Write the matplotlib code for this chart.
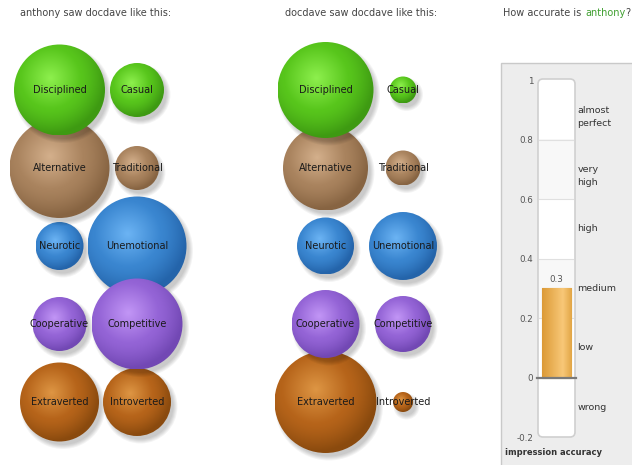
import numpy as np
import matplotlib
matplotlib.use("Agg")
import matplotlib.pyplot as plt
from matplotlib.patches import Circle, Rectangle, FancyBboxPatch
from matplotlib.colors import to_rgb
from matplotlib.offsetbox import TextArea, HPacker, AnnotationBbox
from matplotlib.transforms import blended_transform_factory

# trait pairs, one row each
left_traits = ["Disciplined", "Alternative", "Neurotic", "Cooperative", "Extraverted"]
right_traits = ["Casual", "Traditional", "Unemotional", "Competitive", "Introverted"]

# bubble radii (pixels)
anthony_left = [45.5, 50, 24, 27, 39.5]
anthony_right = [27, 22, 49.5, 45.5, 34]
docdave_left = [48, 42.5, 28.5, 34, 51]
docdave_right = [13.5, 17.5, 34, 28, 10]

accuracy = 0.3
acc_ticks = [-0.2, 0, 0.2, 0.4, 0.6, 0.8, 1]
acc_tick_labels = ["-0.2", "0", "0.2", "0.4", "0.6", "0.8", "1"]
band_labels = ["wrong", "low", "medium", "high", "very\nhigh", "almost\nperfect"]
band_centers = [-0.1, 0.1, 0.3, 0.5, 0.7, 0.9]

# light, base, dark per row
row_colors = [
    ("#8ef04e", "#58c61c", "#3e9a12"),
    ("#d4b08c", "#a9835e", "#876442"),
    ("#6cb4f4", "#3a86d0", "#2464aa"),
    ("#c296f6", "#9464d6", "#7248b4"),
    ("#de9644", "#b6641a", "#8a4a0e"),
]
row_z = [3, 2, 1, 3, 2]

fig = plt.figure(figsize=(6.32, 4.65), dpi=100)
ax = fig.add_axes([0, 0, 1, 1])
ax.set_xlim(0, 632)
ax.set_ylim(465, 0)
ax.axis("off")

n = 80
yy, xx = np.mgrid[-1:1:n * 1j, -1:1:n * 1j]
dist = np.clip(np.hypot(xx + 0.2, yy + 0.24) / 1.22, 0, 1)


def bubble(cx, cy, r, cols, z):
    light, base, dark = [np.array(to_rgb(c)) for c in cols]
    for k in range(5):
        ax.add_patch(Circle((cx + 3.5, cy + 4.5), r + 3 - k, color="k", alpha=0.045,
                            lw=0, zorder=z))
    t = dist[..., None]
    img = np.where(t < 0.55, light + (base - light) * (t / 0.55),
                   base + (dark - base) * ((t - 0.55) / 0.45) ** 1.3)
    circ = Circle((cx, cy), r, fc="none", ec="none", zorder=z + 0.1)
    ax.add_patch(circ)
    im = ax.imshow(img, extent=(cx - r, cx + r, cy + r, cy - r), zorder=z + 0.1,
                   interpolation="bilinear", aspect="auto")
    im.set_clip_path(circ)


col_x = [59.5, 137]
row_y = [90 + 78 * i for i in range(5)]
panels = [(0, anthony_left, anthony_right), (266, docdave_left, docdave_right)]
for dx, lvals, rvals in panels:
    for i in range(5):
        for j, (name, r) in enumerate([(left_traits[i], lvals[i]), (right_traits[i], rvals[i])]):
            cx = col_x[j] + dx
            bubble(cx, row_y[i], r, row_colors[i], row_z[i])
            ax.text(cx, row_y[i], name, ha="center", va="center", fontsize=7,
                    color="#1a1a1a", zorder=10)

ax.set_xlim(0, 632)
ax.set_ylim(465, 0)

# titles
ax.text(20, 13, "anthony saw docdave like this:", fontsize=7, color="#444", va="center")
ax.text(285, 13, "docdave saw docdave like this:", fontsize=7, color="#444", va="center")
tp = dict(fontsize=7)
box = HPacker(children=[
    TextArea("How accurate is", textprops=dict(color="#444", **tp)),
    HPacker(children=[TextArea("anthony", textprops=dict(color="#3f9f2f", **tp)),
                      TextArea("?", textprops=dict(color="#444", **tp))], sep=0, pad=0),
], sep=3, pad=0)
ax.add_artist(AnnotationBbox(box, (503, 13), xycoords="data", box_alignment=(0, 0.5),
                             frameon=False, pad=0))

# gauge panel
ax.add_patch(Rectangle((501, 63), 140, 410, fc="#ededed", ec="#c9c9c9", lw=1, zorder=0))
ax.add_patch(FancyBboxPatch((538, 79), 37, 358, boxstyle="round,pad=0,rounding_size=5",
                            fc="white", ec="#cfcfcf", lw=1.2, zorder=1))
ax.text(505, 452, "impression accuracy", fontsize=6, fontweight="bold", color="#333",
        va="center")

g = fig.add_axes([539 / 632, (465 - 437) / 465, 35 / 632, (437 - 80) / 465])
g.patch.set_visible(False)
g.set_xlim(-0.5, 0.5)
g.set_ylim(-0.2, 1.0)
for s in g.spines.values():
    s.set_visible(False)
g.set_xticks([])
g.set_yticks(acc_ticks, acc_tick_labels)
g.tick_params(axis="y", length=0, pad=4, labelsize=6.3, labelcolor="#555")
for lo in (0.2, 0.6):
    g.axhspan(lo, lo + 0.2, color="#f8f8f8", lw=0, zorder=0)
for v in (0.2, 0.4, 0.6, 0.8):
    g.axhline(v, color="#e0e0e0", lw=0.8, zorder=0.5)

bars = g.bar([0], [accuracy], width=0.84, color="#e8aa48", ec="#cf9238", lw=0.8, zorder=2)
grad = np.linspace(0, 1, 60)
c1, c2, c3 = [np.array(to_rgb(c)) for c in ("#dc9a36", "#f8c878", "#e2a646")]
row = np.where(grad[:, None] < 0.7, c1 + (c2 - c1) * (grad[:, None] / 0.7),
               c2 + (c3 - c2) * ((grad[:, None] - 0.7) / 0.3))
bimg = np.repeat(row[None, :, :], 4, axis=0)
b = bars[0]
im = g.imshow(bimg, extent=(b.get_x(), b.get_x() + b.get_width(), 0, accuracy),
              aspect="auto", zorder=2.1, interpolation="bilinear")
im.set_clip_path(b)
g.set_xlim(-0.5, 0.5)
g.set_ylim(-0.2, 1.0)
g.axhline(0, xmin=-0.06, xmax=1.06, color="#7a7a7a", lw=1.6, zorder=3, clip_on=False)
g.annotate(f"{accuracy:g}", (0, accuracy), xytext=(0, 3), textcoords="offset points",
           ha="center", va="bottom", fontsize=6.3, color="#555")

tr = blended_transform_factory(g.transAxes, g.transData)
for lab, c in zip(band_labels, band_centers):
    off = -5 if "\n" in lab else 0
    g.annotate(lab, (1.1, c), xycoords=tr, xytext=(0, off), textcoords="offset points",
               ha="left", va="center", fontsize=6.8, color="#333", linespacing=1.6)

fig.savefig("out.png", dpi=100)
